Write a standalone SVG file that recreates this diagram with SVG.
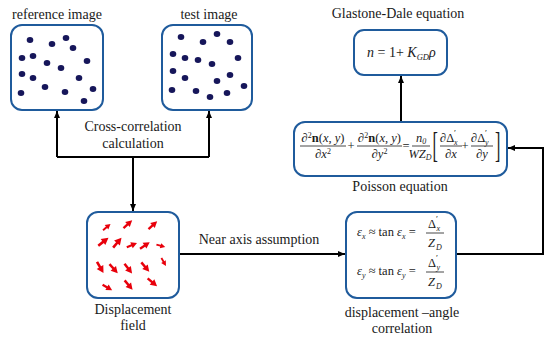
<svg xmlns="http://www.w3.org/2000/svg" xmlns:xlink="http://www.w3.org/1999/xlink" width="550" height="342" viewBox="0 0 550 342" font-family="Liberation Serif, Times New Roman, Times, serif">
<style>
.box{fill:#fff;stroke:#1f5b9c;stroke-width:2}
text{fill:#1a1a1a}
.lbl{font-size:14px;text-anchor:middle}
.eq{font-size:12.5px}
.it{font-style:italic}
.sub{font-size:8px}
.pr{font-size:9px}
.mid{text-anchor:middle}
.big{font-size:36px}
.gd{font-size:14px}
.gds{font-size:8.5px}
.bar{stroke:#1a1a1a;stroke-width:0.8}
.conn{stroke:#000;stroke-width:2;fill:none}
.dot{fill:#16165a}
</style>
<defs>
<marker id="ah" markerUnits="userSpaceOnUse" markerWidth="7" markerHeight="6" refX="7" refY="3" orient="auto">
<path d="M0,0 L7,3 L0,6 z" fill="#000"/>
</marker>
<g id="ra">
<line x1="-6" y1="0" x2="1" y2="0" stroke="#e8000b" stroke-width="2.6"/>
<polygon points="0,-3.8 7,0 0,3.8" fill="#e8000b"/>
</g>
</defs>

<g id="connectors">
<path class="conn" d="M57,157 H209"/>
<path class="conn" d="M57,157 V111" marker-end="url(#ah)"/>
<path class="conn" d="M209,157 V111" marker-end="url(#ah)"/>
<path class="conn" d="M133,157 V211" marker-end="url(#ah)"/>
<path class="conn" d="M179,254 H345" marker-end="url(#ah)"/>
<path class="conn" d="M456,254 H543 V148 H508" marker-end="url(#ah)"/>
<path class="conn" d="M401,122 V76" marker-end="url(#ah)"/>
<text class="lbl" x="133" y="131">Cross-correlation</text>
<text class="lbl" x="133" y="148">calculation</text>
<text class="lbl" x="259" y="244">Near axis assumption</text>
</g>

<g id="reference-image">
<text class="lbl" x="57" y="19">reference image</text>
<rect class="box" x="11" y="25" width="92" height="85" rx="11"/>
<g class="dot">
<ellipse cx="30" cy="40" rx="3.3" ry="3"/>
<ellipse cx="52" cy="44" rx="3.3" ry="3"/>
<ellipse cx="66" cy="38" rx="3.3" ry="3"/>
<ellipse cx="73" cy="48" rx="3.3" ry="3"/>
<ellipse cx="22" cy="58" rx="3.3" ry="3"/>
<ellipse cx="33" cy="56" rx="3.3" ry="3"/>
<ellipse cx="47" cy="63" rx="3.3" ry="3"/>
<ellipse cx="61" cy="68" rx="3.3" ry="3"/>
<ellipse cx="87" cy="61" rx="3.3" ry="3"/>
<ellipse cx="22" cy="74" rx="3.3" ry="3"/>
<ellipse cx="33" cy="78" rx="3.3" ry="3"/>
<ellipse cx="45" cy="87" rx="3.3" ry="3"/>
<ellipse cx="65" cy="92" rx="3.3" ry="3"/>
<ellipse cx="79" cy="78" rx="3.3" ry="3"/>
<ellipse cx="93" cy="89" rx="3.3" ry="3"/>
<ellipse cx="21" cy="93" rx="3.3" ry="3"/>
<ellipse cx="84" cy="101" rx="3.3" ry="3"/>
</g>
</g>

<g id="test-image">
<text class="lbl" x="209" y="19">test image</text>
<rect class="box" x="162" y="25" width="90" height="85" rx="11"/>
<g class="dot">
<ellipse cx="181" cy="37" rx="3.3" ry="3"/>
<ellipse cx="203" cy="42" rx="3.3" ry="3"/>
<ellipse cx="217" cy="34" rx="3.3" ry="3"/>
<ellipse cx="230" cy="42" rx="3.3" ry="3"/>
<ellipse cx="173" cy="54" rx="3.3" ry="3"/>
<ellipse cx="185" cy="58" rx="3.3" ry="3"/>
<ellipse cx="198" cy="60" rx="3.3" ry="3"/>
<ellipse cx="212" cy="64" rx="3.3" ry="3"/>
<ellipse cx="238" cy="58" rx="3.3" ry="3"/>
<ellipse cx="173" cy="71" rx="3.3" ry="3"/>
<ellipse cx="185" cy="78" rx="3.3" ry="3"/>
<ellipse cx="217" cy="81" rx="3.3" ry="3"/>
<ellipse cx="230" cy="75" rx="3.3" ry="3"/>
<ellipse cx="172" cy="90" rx="3.3" ry="3"/>
<ellipse cx="196" cy="91" rx="3.3" ry="3"/>
<ellipse cx="210" cy="97" rx="3.3" ry="3"/>
<ellipse cx="227" cy="93" rx="3.3" ry="3"/>
<ellipse cx="244" cy="86" rx="3.3" ry="3"/>
</g>
</g>

<g id="displacement-field">
<rect class="box" x="87" y="212" width="92" height="86" rx="11"/>
<use xlink:href="#ra" transform="translate(106.5,227.3) rotate(-40) scale(0.75)"/>
<use xlink:href="#ra" transform="translate(127.5,224.5) rotate(-42) scale(0.9)"/>
<use xlink:href="#ra" transform="translate(152.5,225.5) rotate(-42) scale(0.9)"/>
<use xlink:href="#ra" transform="translate(103,242) rotate(-38) scale(1)"/>
<use xlink:href="#ra" transform="translate(117,243) rotate(-50) scale(1)"/>
<use xlink:href="#ra" transform="translate(131.5,245.3) rotate(-22) scale(0.85)"/>
<use xlink:href="#ra" transform="translate(144.5,245.7) rotate(-34) scale(0.9)"/>
<use xlink:href="#ra" transform="translate(160.5,245.7) rotate(15) scale(0.7)"/>
<use xlink:href="#ra" transform="translate(163.5,261.7) rotate(60) scale(0.7)"/>
<use xlink:href="#ra" transform="translate(100,267) rotate(60) scale(1)"/>
<use xlink:href="#ra" transform="translate(113.3,268.3) rotate(48) scale(0.95)"/>
<use xlink:href="#ra" transform="translate(128,268.3) rotate(52) scale(0.95)"/>
<use xlink:href="#ra" transform="translate(145,266.7) rotate(50) scale(0.95)"/>
<use xlink:href="#ra" transform="translate(107,287.3) rotate(30) scale(0.85)"/>
<use xlink:href="#ra" transform="translate(128.3,284.7) rotate(50) scale(0.95)"/>
<use xlink:href="#ra" transform="translate(152,282) rotate(40) scale(0.95)"/>
<text class="lbl" x="133" y="314">Displacement</text>
<text class="lbl" x="133" y="330">field</text>
</g>

<g id="displacement-angle">
<rect class="box" x="346" y="212" width="110" height="86" rx="11"/>
<text class="eq" x="357" y="236"><tspan class="it">ε</tspan><tspan class="sub it" dy="3">x</tspan><tspan dy="-3"> ≈ tan </tspan><tspan class="it">ε</tspan><tspan class="sub it" dy="3">x</tspan><tspan dy="-3"> =</tspan></text>
<text class="eq" x="428" y="228">Δ</text>
<text class="eq pr" x="436" y="222">′</text>
<text class="eq sub it" x="436.5" y="231">x</text>
<line class="bar" x1="426" y1="233" x2="444" y2="233"/>
<text class="eq it" x="428" y="247">Z</text>
<text class="eq sub it" x="436" y="250">D</text>
<text class="eq" x="357" y="275"><tspan class="it">ε</tspan><tspan class="sub it" dy="3">y</tspan><tspan dy="-3"> ≈ tan </tspan><tspan class="it">ε</tspan><tspan class="sub it" dy="3">y</tspan><tspan dy="-3"> =</tspan></text>
<text class="eq" x="428" y="267">Δ</text>
<text class="eq pr" x="436" y="261">′</text>
<text class="eq sub it" x="436.5" y="270">y</text>
<line class="bar" x1="426" y1="272" x2="444" y2="272"/>
<text class="eq it" x="428" y="286">Z</text>
<text class="eq sub it" x="436" y="289">D</text>
<text class="lbl" x="402" y="317">displacement –angle</text>
<text class="lbl" x="402" y="333">correlation</text>
</g>

<g id="poisson">
<rect class="box" x="294" y="122" width="213" height="54" rx="11"/>
<text class="eq mid" x="323" y="142">∂<tspan class="sub" dy="-4">2</tspan><tspan dy="4" font-weight="bold">n</tspan>(<tspan class="it">x</tspan>, <tspan class="it">y</tspan>)</text>
<line class="bar" x1="300" y1="146" x2="346" y2="146"/>
<text class="eq mid" x="323" y="158">∂<tspan class="it">x</tspan><tspan class="sub" dy="-4">2</tspan></text>
<text class="eq mid" x="351" y="150">+</text>
<text class="eq mid" x="379.5" y="142">∂<tspan class="sub" dy="-4">2</tspan><tspan dy="4" font-weight="bold">n</tspan>(<tspan class="it">x</tspan>, <tspan class="it">y</tspan>)</text>
<line class="bar" x1="357" y1="146" x2="402" y2="146"/>
<text class="eq mid" x="379.5" y="158">∂<tspan class="it">y</tspan><tspan class="sub" dy="-4">2</tspan></text>
<text class="eq mid" x="406" y="150">=</text>
<text class="eq mid it" x="421" y="142">n<tspan class="sub" dy="2">0</tspan></text>
<line class="bar" x1="412" y1="146" x2="430" y2="146"/>
<text class="eq mid it" x="420" y="158">WZ<tspan class="sub" dy="2">D</tspan></text>
<text class="big" transform="translate(432.5,157) scale(0.45,1)">[</text>
<text class="eq" x="440" y="142">∂Δ</text>
<text class="eq pr" x="454" y="136">′</text>
<text class="eq sub it" x="454" y="145">x</text>
<line class="bar" x1="440" y1="146" x2="462" y2="146"/>
<text class="eq mid" x="451" y="158">∂<tspan class="it">x</tspan></text>
<text class="eq mid" x="465" y="150">+</text>
<text class="eq" x="471" y="142">∂Δ</text>
<text class="eq pr" x="485" y="136">′</text>
<text class="eq sub it" x="485" y="145">y</text>
<line class="bar" x1="471" y1="146" x2="493" y2="146"/>
<text class="eq mid" x="482" y="158">∂<tspan class="it">y</tspan></text>
<text class="big" transform="translate(495,157) scale(0.45,1)">]</text>
<text class="lbl" x="400" y="191">Poisson equation</text>
</g>

<g id="gladstone-dale">
<text class="lbl" x="398" y="18">Glastone-Dale equation</text>
<rect class="box" x="354" y="30" width="93" height="45" rx="10"/>
<text class="gd" x="367" y="57"><tspan class="it">n</tspan> = 1+ <tspan class="it">K</tspan><tspan class="it gds" dy="3">GD</tspan><tspan class="it" dy="-3">ρ</tspan></text>
</g>
</svg>
